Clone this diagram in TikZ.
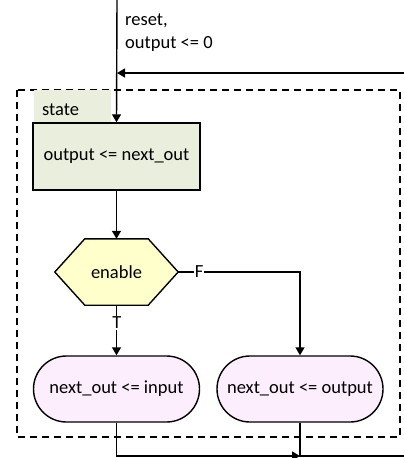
\documentclass[tikz,border=0pt]{standalone}
\usepackage{fontspec}
\setmainfont{Carlito}
\usetikzlibrary{arrows.meta,calc}
\definecolor{stategreen}{RGB}{233,238,221}
\definecolor{decyellow}{RGB}{255,255,204}
\definecolor{actpink}{RGB}{253,238,253}
\tikzset{
  every node/.style={font=\fontsize{18.5}{23}\selectfont},
  line/.style={line width=1.4pt},
  arr/.style={line, -{Triangle[length=8pt,width=9pt]}},
  statebox/.style={draw, line width=1.4pt, fill=stategreen, minimum width=167pt, minimum height=67pt, inner sep=0pt},
  actbox/.style={draw, line width=1.4pt, fill=actpink, rounded corners=33pt, minimum width=166pt, minimum height=66pt, inner sep=0pt},
  tag/.style={fill=white, inner sep=1pt},
}
\begin{document}
\begin{tikzpicture}[x=1pt,y=-1pt]
\useasboundingbox (0,0) rectangle (404,458);

% process boundary
\draw[line, dash pattern=on 7pt off 5pt] (17,90) rectangle (400,437);

% state label tab
\node[fill=stategreen, minimum width=77pt, minimum height=33pt, inner sep=0pt] (tab) at (72.5,106.5) {};
\node[anchor=west, inner sep=0pt] (tabtxt) at (42,110) {state};

% nodes
\node[statebox] (state) at (116.5,156.5) {output <= next\_out};
\node[minimum width=123pt, minimum height=66pt, inner sep=0pt] (enable) at (116.5,272) {};
\fill[decyellow] (enable.west) -- ($(enable.north west)+(30,0)$) -- ($(enable.north east)+(-30,0)$)
  -- (enable.east) -- ($(enable.south east)+(-30,0)$) -- ($(enable.south west)+(30,0)$) -- cycle;
\draw[line] (enable.west) -- ($(enable.north west)+(30,0)$) -- ($(enable.north east)+(-30,0)$)
  -- (enable.east) -- ($(enable.south east)+(-30,0)$) -- ($(enable.south west)+(30,0)$) -- cycle;
\node (enabletxt) at (enable) {enable};
\node[actbox] (nin) at (116.5,389) {next\_out <= input};
\node[actbox] (nout) at (300,389) {next\_out <= output};

% reset entry and loop return
\coordinate (top) at (117,0);
\coordinate (loopin) at (404,73);
\coordinate (loopout) at (404,456);
\coordinate (join) at (300,456);
\draw[arr] (top) -- (state.north);
\node[anchor=west, align=left, inner sep=0pt] (resetlbl) at (125,33) {reset,\\output <= 0};
\draw[arr] (loopin) -- (117,73);

% flow
\draw[arr] (state.south) -- (enable.north);
\draw[arr] (enable.south) -- (nin.north);
\node[tag] (tlbl) at (117,323) {T};
\draw[arr] (enable.east) -| (nout.north);
\node[tag] (flbl) at (199,272) {F};
\draw[arr] (nin.south) |- (join);
\draw[line] (nout.south) -- (join) -- (loopout);
\end{tikzpicture}
\end{document}
